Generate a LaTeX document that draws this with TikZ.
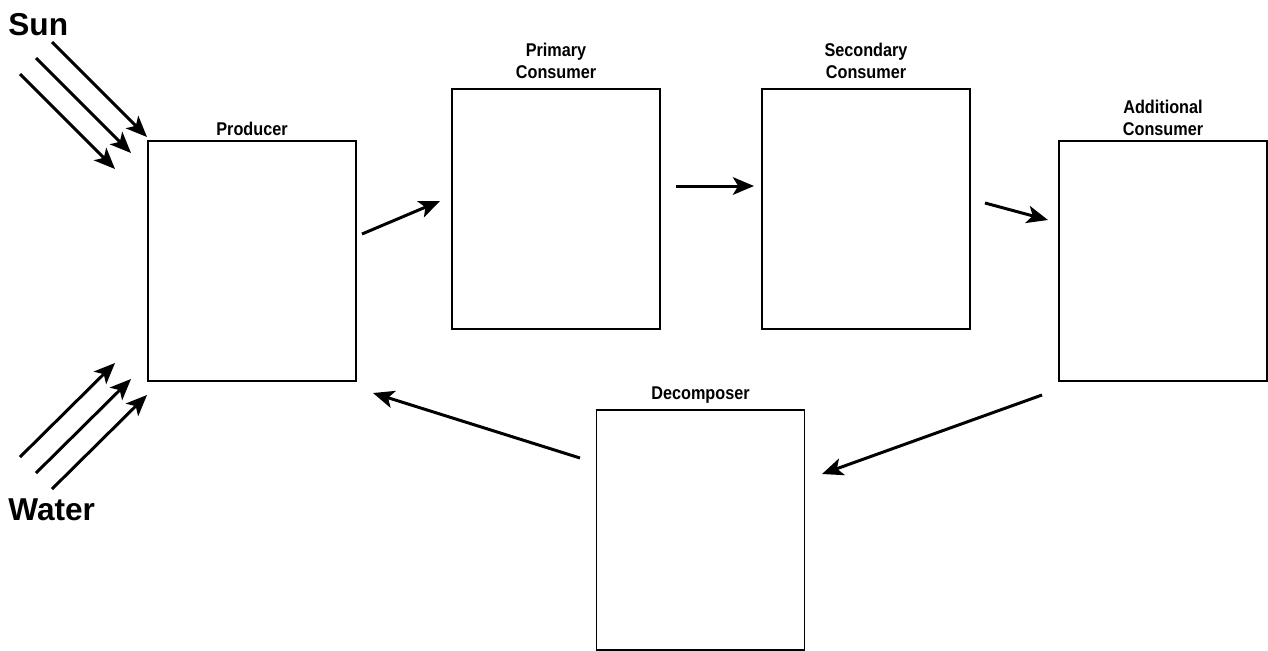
\documentclass[tikz,border=0pt]{standalone}
\usepackage{fontspec}
\setmainfont{Liberation Sans}
\newfontfamily\lblfont[FakeStretch=0.88]{Liberation Sans}
\usetikzlibrary{arrows.meta}
\tikzset{
  box/.style={draw, line width=1.1pt, minimum width=4.16cm, minimum height=4.8cm, inner sep=0pt},
  lbl/.style={font=\lblfont\fontsize{10.5}{12.8}\selectfont\bfseries, align=center, inner sep=0pt},
  big/.style={font=\fontsize{18}{20}\selectfont\bfseries, inner sep=0pt},
  flow/.style={line width=1.7pt, -{Stealth[length=12pt,width=10pt,inset=3pt]}}
}
\begin{document}
\begin{tikzpicture}[x=0.02cm,y=-0.02cm]
			%%%%% START %%%%%
			\useasboundingbox (0,0) rectangle (1268,650);
			
			\node[box] (prod) at (252,261) {};
			\node[box] (prim) at (556,209) {};
			\node[box] (sec) at (866,209) {};
			\node[box] (add) at (1163,261) {};
			\node[box] (dec) at (700.5,530) {};
			
			\node[lbl, above=2.5pt] at (prod.north) {Producer};
			\node[lbl, above=5pt] at (prim.north) {Primary\\Consumer};
			\node[lbl, above=5pt] at (sec.north) {Secondary\\Consumer};
			\node[lbl, above=2.3pt] at (add.north) {Additional\\Consumer};
			\node[lbl, above=2.8pt] at (dec.north) {Decomposer};
			
			\node[big, anchor=base west] (sun) at (8,35) {Sun};
			\node[big, anchor=base west] (water) at (8,520) {Water};
			
			% sun rays
			\foreach \i in {0,1,2}
				\draw[flow] ({52-16*\i},{42+16*\i}) -- ({147-16*\i},{137+16*\i});
			% water
			\foreach \i in {0,1,2}
				\draw[flow] ({20+16*\i},{457+16*\i}) -- ({115+16*\i},{363+16*\i});
			
			% food chain
			\coordinate (a1) at (362,234); \coordinate (a2) at (440,201);
			\coordinate (b1) at (676,186); \coordinate (b2) at (754,186);
			\coordinate (c1) at (985,203); \coordinate (c2) at (1048,220);
			\coordinate (d1) at (1042,395); \coordinate (d2) at (822,474);
			\coordinate (e1) at (580,458); \coordinate (e2) at (373,393);
			\draw[flow] (a1) -- (a2);
			\draw[flow] (b1) -- (b2);
			\draw[flow] (c1) -- (c2);
			\draw[flow] (d1) -- (d2);
			\draw[flow] (e1) -- (e2);
			
			%%%%% END %%%%%
\end{tikzpicture}
\end{document}
